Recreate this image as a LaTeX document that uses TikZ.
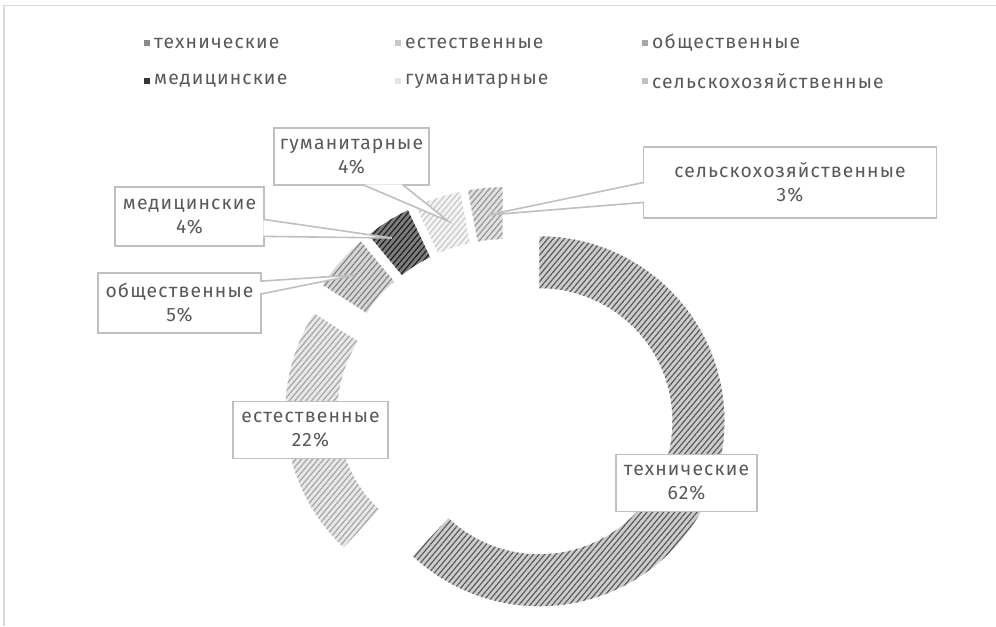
\documentclass[tikz,border=0pt]{standalone}
\usepackage{fontspec}
\setmainfont[LetterSpace=6]{Fira Sans}
\usepackage{xcolor}
\definecolor{textgray}{RGB}{89,89,89}
\definecolor{boxgray}{RGB}{191,191,191}
\definecolor{framegray}{RGB}{217,217,217}
\definecolor{techfill}{RGB}{205,205,205}
\definecolor{techline}{RGB}{90,90,90}
\definecolor{natfill}{RGB}{232,232,232}
\definecolor{natline}{RGB}{165,165,165}
\definecolor{socfill}{RGB}{215,215,215}
\definecolor{socline}{RGB}{130,130,130}
\definecolor{medfill}{RGB}{125,125,125}
\definecolor{medline}{RGB}{30,30,30}
\definecolor{humfill}{RGB}{244,244,244}
\definecolor{humline}{RGB}{200,200,200}
\definecolor{agrfill}{RGB}{225,225,225}
\definecolor{agrline}{RGB}{150,150,150}
\usepackage{tikz}
\usetikzlibrary{calc}
\usetikzlibrary{patterns.meta}
\usetikzlibrary{positioning}
\newcommand{\chartfont}{\fontsize{14.5}{18}\selectfont}
\newcommand{\rout}{185}
\newcommand{\rin}{133}
\newcommand{\explode}{36}
\newcommand{\ringpart}[3]{%
    \path[#3, shift={(ringcenter)}, shift={({(#1+#2)/2-90}:\explode)}]
        ({#1-90}:\rout) arc[start angle=#1-90, end angle=#2-90, radius=\rout]
        -- ({#2-90}:\rin) arc[start angle=#2-90, end angle=#1-90, radius=\rin] -- cycle;}
\tikzset{
    hatch/.style 2 args={preaction={fill=#1}, pattern={Lines[angle=50, distance=3.2pt, line width=0.9pt]}, pattern color=#2},
    callout/.style={draw=boxgray, line width=1.2pt, fill=white, align=center, inner sep=0pt},
    tail/.style={draw=boxgray, line width=1.2pt, fill=white},
    legmark/.style={minimum size=5pt, inner sep=0pt},
    legtext/.style={anchor=west, inner sep=0pt}
}
\begin{document}
\begin{tikzpicture}[x=0.75pt, y=-0.75pt, every node/.style={font=\chartfont, text=textgray}]
    \useasboundingbox (0,0) rectangle (996,626);
    \draw[framegray, line width=1.2pt] (4,626) -- (4,5.5) -- (996,5.5);

    \coordinate (ringcenter) at (506,408);
    \ringpart{0}{223.2}{hatch={techfill}{techline}}
    \ringpart{223.2}{302.4}{hatch={natfill}{natline}}
    \ringpart{302.4}{320.4}{hatch={socfill}{socline}}
    \ringpart{320.4}{334.8}{hatch={medfill}{medline}}
    \ringpart{334.8}{349.2}{hatch={humfill}{humline}}
    \ringpart{349.2}{360}{hatch={agrfill}{agrline}}

    \node[legmark, fill=techline!70] (legtech) at (147,43) {};
    \node[legtext, right=2.5pt of legtech] {технические};
    \node[legmark, fill=natline!60] (legnat) at (398,43) {};
    \node[legtext, right=2.5pt of legnat] {естественные};
    \node[legmark, fill=socline!70] (legsoc) at (645,43) {};
    \node[legtext, right=2.5pt of legsoc] {общественные};
    \node[legmark, fill=medline!90] (legmed) at (147,81) {};
    \node[legtext, right=2.5pt of legmed] {медицинские};
    \node[legmark, fill=humline!50] (leghum) at (398,81) {};
    \node[legtext, right=2.5pt of leghum] {гуманитарные};
    \node[legmark, fill=agrline!60] (legagr) at (645,81) {};
    \node[legtext, right=2.5pt of legagr] {сельскохозяйственные};

    \node[callout, minimum width=116pt, minimum height=43pt] (humlabel) at (351.5,156.5) {гуманитарные\\4\%};
    \coordinate (humtip) at (448,221);
    \filldraw[tail] ($(humlabel.south west)+(89,-1.5)$) -- (humtip) -- ($(humlabel.south west)+(129,-1.5)$);

    \node[callout, minimum width=112pt, minimum height=44pt] (medlabel) at (189.5,216.5) {медицинские\\4\%};
    \coordinate (medtip) at (392,238);
    \filldraw[tail] ($(medlabel.north east)+(-1.5,33)$) -- (medtip) -- ($(medlabel.north east)+(-1.5,50)$);

    \node[callout, minimum width=122pt, minimum height=45pt] (soclabel) at (179.5,303) {общественные\\5\%};
    \coordinate (soctip) at (355,275);
    \filldraw[tail] ($(soclabel.north east)+(-1.5,9)$) -- (soctip) -- ($(soclabel.north east)+(-1.5,22)$);

    \node[callout, minimum width=220pt, minimum height=53pt] (agrlabel) at (790,182.5) {сельскохозяйственные\\3\%};
    \coordinate (agrtip) at (488,215);
    \filldraw[tail] ($(agrlabel.north west)+(1.5,36)$) -- (agrtip) -- ($(agrlabel.north west)+(1.5,56)$);

    \node[callout, minimum width=116pt, minimum height=43pt] (natlabel) at (310.5,430) {естественные\\22\%};
    \node[callout, minimum width=106pt, minimum height=43pt] (techlabel) at (686.5,483) {технические\\62\%};
\end{tikzpicture}
\end{document}
